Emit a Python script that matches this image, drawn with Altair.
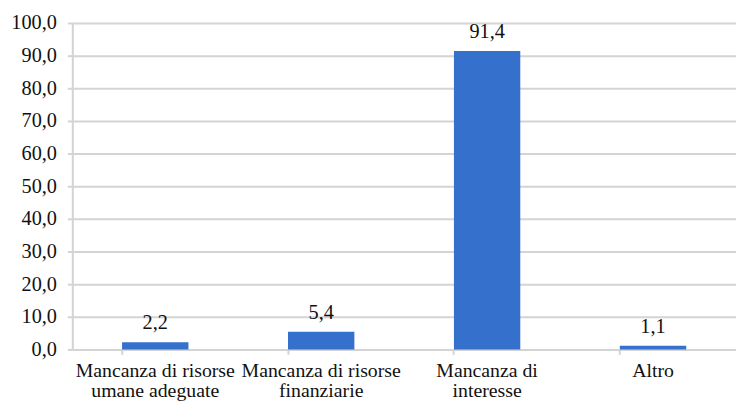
import altair as alt
import pandas as pd

categories = ["Mancanza di risorse umane adeguate", "Mancanza di risorse finanziarie",
              "Mancanza di interesse", "Altro"]
label_lines = [["Mancanza di risorse", "umane adeguate"],
               ["Mancanza di risorse", "finanziarie"],
               ["Mancanza di", "interesse"],
               ["Altro"]]
values = [2.2, 5.4, 91.4, 1.1]
y_ticks = [0, 10, 20, 30, 40, 50, 60, 70, 80, 90, 100]

df = pd.DataFrame({"categoria": categories, "valore": values})

expr = "''"
for name, lines in reversed(list(zip(categories, label_lines))):
    arr = "[" + ",".join("'" + l + "'" for l in lines) + "]"
    expr = f"datum.label == '{name}' ? {arr} : ({expr})"

FONT = "Liberation Serif"
TXT = "#111111"
GRID = "#d4d4d4"
FS = 20

y_axis = alt.Axis(values=y_ticks, labelOverlap=False,
                  labelExpr="replace(format(datum.value, '.1f'), '.', ',')",
                  grid=True, gridColor=GRID, gridWidth=2,
                  domainColor=GRID, domainWidth=2,
                  tickColor=GRID, tickWidth=2, tickSize=5,
                  labelFont=FONT, labelFontSize=20.5, labelColor=TXT,
                  labelPadding=11)

x_main = alt.X("categoria:N", sort=categories, title=None,
               scale=alt.Scale(paddingInner=0.6, paddingOuter=0.3),
               axis=alt.Axis(orient="bottom", labelExpr=expr, labelAngle=0, ticks=False,
                             domain=True, domainColor=GRID, domainWidth=2, labelFont=FONT,
                             labelFontSize=FS, labelColor=TXT, labelPadding=11,
                             labelLineHeight=21, labelBaseline="top", grid=False))

bars = alt.Chart(df).mark_bar(color="#3470CC").encode(
    x=x_main,
    y=alt.Y("valore:Q", title=None, scale=alt.Scale(domain=[0, 100], nice=False),
            axis=y_axis),
)

text = alt.Chart(df).transform_calculate(
    lbl="replace(format(datum.valore, '.1f'), '.', ',')"
).mark_text(font=FONT, fontSize=20.5, color=TXT, baseline="alphabetic", dy=-13).encode(
    x=alt.X("categoria:N", sort=categories, title=None,
            axis=alt.Axis(orient="bottom", bandPosition=0, labels=False, ticks=True,
                          tickSize=5, tickColor=GRID, tickWidth=2, domain=False,
                          grid=False)),
    y=alt.Y("valore:Q", title=None, axis=y_axis),
    text="lbl:N",
)

chart = alt.layer(bars, text).resolve_axis(x="independent").properties(
    width=671, height=330,
    autosize=alt.AutoSizeParams(type="none"),
    padding={"left": 65, "top": 13, "right": 0, "bottom": 54},
).configure_view(stroke=None).configure(background="white")

chart.save("out.html", embed_options={"renderer": "svg", "actions": False})
